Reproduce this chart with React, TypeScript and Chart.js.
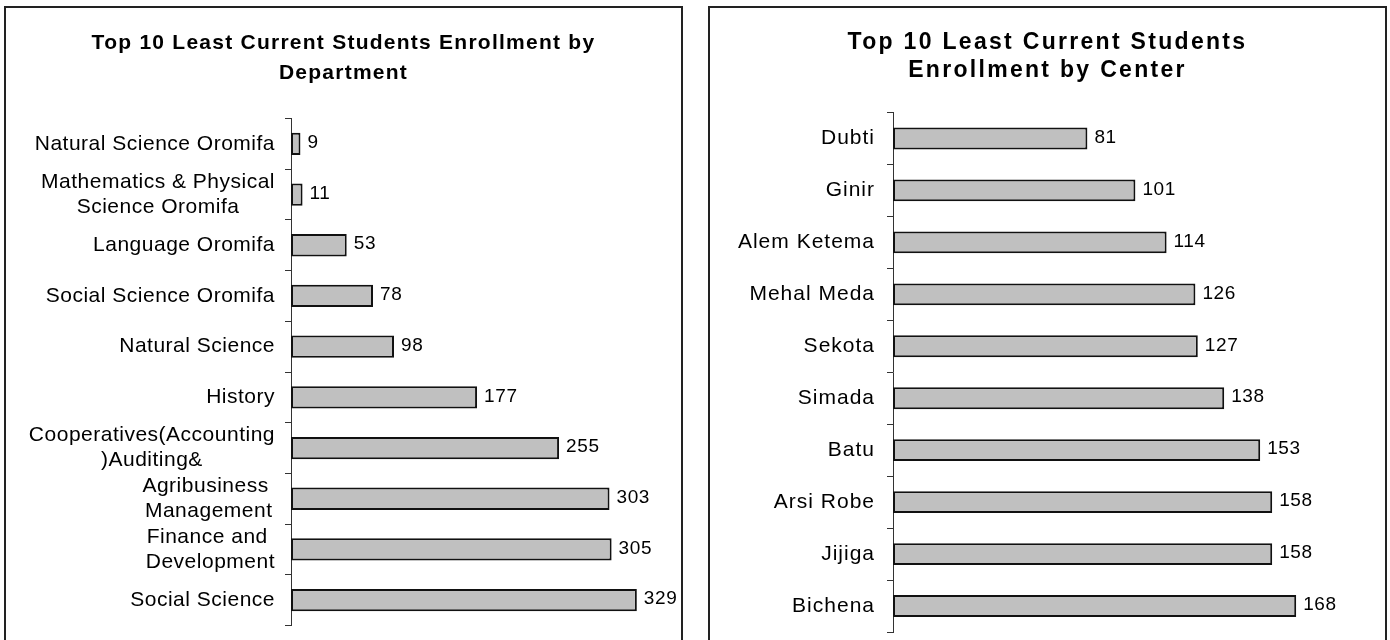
import React, { useEffect, useRef } from "react";
import { Chart, registerables } from "chart.js";

Chart.register(...registerables);

// ---------- data ----------
const deptTitle = ["Top 10 Least Current Students Enrollment by", "Department"];
const deptLabels: string[][] = [
  ["Natural Science Oromifa"],
  ["Mathematics & Physical", "Science Oromifa"],
  ["Language Oromifa"],
  ["Social Science Oromifa"],
  ["Natural Science"],
  ["History"],
  ["Cooperatives(Accounting", ")Auditing&"],
  ["Agribusiness ", "Management"],
  ["Finance and ", "Development"],
  ["Social Science"],
];
const deptValues = [9, 11, 53, 78, 98, 177, 255, 303, 305, 329];
const deptMax = 371;

const centerTitle = ["Top 10 Least Current Students", "Enrollment by Center"];
const centerLabels: string[][] = [
  ["Dubti"],
  ["Ginir"],
  ["Alem Ketema"],
  ["Mehal Meda"],
  ["Sekota"],
  ["Simada"],
  ["Batu"],
  ["Arsi Robe"],
  ["Jijiga"],
  ["Bichena"],
];
const centerValues = [81, 101, 114, 126, 127, 138, 153, 158, 158, 168];
const centerMax = 205;

// ---------- plugins ----------
const titleSpacingPlugin = {
  id: "titleSpacing",
  beforeDraw(chart: any, _args: any, opts: any) {
    (chart.ctx as any).letterSpacing = opts.spacing || "0px";
  },
  afterDraw(chart: any) {
    (chart.ctx as any).letterSpacing = "0px";
  },
};

const labelsPlugin = {
  id: "customLabels",
  afterDatasetsDraw(chart: any, _args: any, opts: any) {
    const ctx = chart.ctx as CanvasRenderingContext2D;
    const yScale = chart.scales.y;
    const area = chart.chartArea;
    const meta = chart.getDatasetMeta(0);
    const values = chart.data.datasets[0].data as number[];
    ctx.save();
    // category labels
    (ctx as any).letterSpacing = opts.tickSpacing;
    ctx.font = opts.tickFont;
    ctx.fillStyle = "#000";
    ctx.textBaseline = "middle";
    ctx.textAlign = "center";
    (chart.data.labels as string[][]).forEach((lab, i) => {
      const lines = Array.isArray(lab) ? lab : [lab];
      const y = yScale.getPixelForValue(i);
      const maxW = Math.max(...lines.map((l) => ctx.measureText(l).width));
      const cx = area.left - opts.gap - maxW / 2;
      const n = lines.length;
      lines.forEach((l, k) => {
        ctx.fillText(l, cx, y + (k - (n - 1) / 2) * opts.lineH);
      });
    });
    // value labels
    (ctx as any).letterSpacing = opts.valueSpacing;
    ctx.font = opts.valueFont;
    ctx.textAlign = "left";
    meta.data.forEach((bar: any, i: number) => {
      ctx.fillText(String(values[i]), bar.x + 7, bar.y - 1);
    });
    ctx.restore();
  },
};

// ---------- panel ----------
type PanelProps = {
  left: number;
  title: string[];
  labels: string[][];
  values: number[];
  max: number;
  titleFont: number;
  titleLineH: number;
  titleSpacing: string;
  titlePadTop: number;
  titlePadBottom: number;
  axisWidth: number;
  padBottom: number;
  barPct: number;
  tickFont: string;
  tickSpacing: string;
  tickGap: number;
  tickLineH: number;
};

const CW = 675;
const CH = 650;

function Panel(p: PanelProps) {
  const ref = useRef<HTMLCanvasElement | null>(null);
  useEffect(() => {
    if (!ref.current) return;
    const chart = new Chart(ref.current, {
      type: "bar",
      data: {
        labels: p.labels as any,
        datasets: [
          {
            data: p.values,
            backgroundColor: "#C0C0C0",
            borderColor: "#111111",
            borderWidth: 2,
            borderSkipped: false,
            categoryPercentage: 1,
            barPercentage: p.barPct,
          },
        ],
      },
      options: {
        indexAxis: "y",
        responsive: false,
        animation: false,
        devicePixelRatio: 1,
        events: [],
        layout: {
          padding: { left: 0, right: 0, top: 0, bottom: p.padBottom },
        },
        scales: {
          x: { display: false, min: 0, max: p.max },
          y: {
            display: true,
            offset: true,
            afterFit: (scale: any) => {
              scale.width = p.axisWidth;
            },
            ticks: { display: false },
            grid: {
              display: true,
              offset: true,
              drawOnChartArea: false,
              drawTicks: true,
              tickLength: 6,
              color: "#333333",
              lineWidth: 1,
            },
            border: { display: true, color: "#333333", width: 1 },
          },
        },
        plugins: {
          legend: { display: false },
          tooltip: { enabled: false },
          title: {
            display: true,
            text: p.title,
            color: "#000000",
            font: {
              family: "'Liberation Sans', Arial, sans-serif",
              size: p.titleFont,
              weight: "bold",
              lineHeight: p.titleLineH,
            },
            padding: { top: p.titlePadTop, bottom: p.titlePadBottom },
          },
          titleSpacing: { spacing: p.titleSpacing },
          customLabels: {
            tickFont: p.tickFont,
            tickSpacing: p.tickSpacing,
            gap: p.tickGap,
            lineH: p.tickLineH,
            valueFont: "19px 'Liberation Sans', Arial, sans-serif",
            valueSpacing: "0.6px",
          },
        } as any,
      },
      plugins: [titleSpacingPlugin, labelsPlugin],
    });
    return () => chart.destroy();
  }, []);

  return (
    <div
      style={{
        position: "absolute",
        left: p.left,
        top: 6,
        width: CW + 4,
        height: CH + 4,
        border: "2px solid #222",
        boxSizing: "border-box",
        background: "#fff",
      }}
    >
      <canvas ref={ref} width={CW} height={CH} style={{ display: "block", width: CW, height: CH }} />
    </div>
  );
}

export default function App() {
  return (
    <div
      style={{
        position: "absolute",
        left: 0,
        top: 0,
        width: 1390,
        height: 640,
        overflow: "hidden",
        background: "#fff",
      }}
    >
      <Panel
        left={4}
        title={deptTitle}
        labels={deptLabels}
        values={deptValues}
        max={deptMax}
        titleFont={21}
        titleLineH={30 / 21}
        titleSpacing="1.25px"
        titlePadTop={20}
        titlePadBottom={30.5}
        axisWidth={285}
        padBottom={32.5}
        barPct={0.44}
        tickFont="21px 'Liberation Sans', Arial, sans-serif"
        tickSpacing="0.5px"
        tickGap={16}
        tickLineH={25}
      />
      <Panel
        left={708}
        title={centerTitle}
        labels={centerLabels}
        values={centerValues}
        max={centerMax}
        titleFont={23}
        titleLineH={28 / 23}
        titleSpacing="2.3px"
        titlePadTop={21}
        titlePadBottom={27.5}
        axisWidth={183}
        padBottom={26}
        barPct={0.42}
        tickFont="21px 'Liberation Sans', Arial, sans-serif"
        tickSpacing="1px"
        tickGap={18}
        tickLineH={25}
      />
    </div>
  );
}
